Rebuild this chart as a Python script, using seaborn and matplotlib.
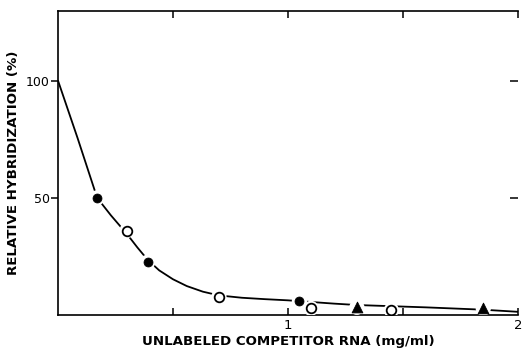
import matplotlib
matplotlib.use("Agg")
import matplotlib.pyplot as plt
import seaborn as sns
import pandas as pd

# fitted competition curve
curve_x = [0, 0.085, 0.17, 0.23, 0.30, 0.345, 0.39, 0.44, 0.50, 0.56, 0.63, 0.70,
           0.80, 0.90, 1.0, 1.1, 1.2, 1.3, 1.45, 1.6, 1.75, 1.85, 1.95, 2.0]
curve_y = [100, 75.5, 50, 42.5, 34.5, 28.8, 23.5, 19.0, 15.2, 12.3, 9.9, 8.3,
           7.3, 6.7, 6.2, 5.5, 4.8, 4.2, 3.7, 3.2, 2.6, 2.2, 1.6, 1.3]

# measured points
filled_x = [0.17, 0.39, 1.05]
filled_y = [50, 22.5, 5.8]
open_x = [0.30, 0.70, 1.10, 1.45]
open_y = [36, 7.8, 2.8, 2.0]
tri_x = [1.30, 1.85]
tri_y = [3.2, 2.8]

sns.set_style("ticks", {"axes.edgecolor": "black", "xtick.color": "black",
                        "ytick.color": "black", "text.color": "black",
                        "axes.labelcolor": "black"})
plt.rcParams["font.family"] = ["DejaVu Sans"]

fig = plt.figure(figsize=(5.23, 3.51), dpi=100)
ax = fig.add_axes([0.111, 0.103, 0.879, 0.867])

curve = pd.DataFrame({"x": curve_x, "y": curve_y})
sns.lineplot(data=curve, x="x", y="y", ax=ax, color="black", lw=1.3, zorder=2)

# white halos give the small gaps in the line around each symbol
all_x = filled_x + open_x + tri_x
all_y = filled_y + open_y + tri_y
sns.scatterplot(x=all_x, y=all_y, ax=ax, s=120, color="white", edgecolor="none", zorder=3)

sns.scatterplot(x=filled_x, y=filled_y, ax=ax, s=42, color="black", edgecolor="black", zorder=4)
sns.scatterplot(x=open_x, y=open_y, ax=ax, s=48, color="white", edgecolor="black", linewidth=1.3, zorder=4)
sns.scatterplot(x=tri_x, y=tri_y, ax=ax, s=60, marker="^", color="black", edgecolor="black", zorder=4)

ax.set_xlim(0, 2)
ax.set_ylim(0, 130)
ax.set_xticks([1, 2])
ax.set_xticklabels(["1", "2"])
ax.set_xticks([0.5, 1.5], minor=True)
ax.set_yticks([50, 100])
ax.set_yticklabels(["50", "100"])

for s in ["left", "bottom", "top"]:
    ax.spines[s].set_linewidth(1.2)
ax.spines["right"].set_visible(False)

ax.tick_params(axis="x", which="both", direction="in", top=True, bottom=True,
               length=5, width=1.1, labelsize=9.5, pad=3)
ax.tick_params(axis="y", which="both", direction="out", left=True, right=False,
               length=5, width=1.1, labelsize=9, pad=1)

# inward ticks on the (hidden) right side
ax2 = ax.twinx()
ax2.set_ylim(ax.get_ylim())
ax2.set_yticks([50, 100])
ax2.set_yticklabels([])
ax2.tick_params(axis="y", direction="in", length=6, width=1.1, color="black")
for s in ax2.spines.values():
    s.set_visible(False)

ax.set_xlabel("UNLABELED COMPETITOR RNA (mg/ml)", fontsize=9.6, fontweight="bold", labelpad=2)
ax.set_ylabel("RELATIVE HYBRIDIZATION (%)", fontsize=9.6, fontweight="bold")
ax.yaxis.set_label_coords(-0.082, 0.5)

fig.savefig("out.png", dpi=100)
